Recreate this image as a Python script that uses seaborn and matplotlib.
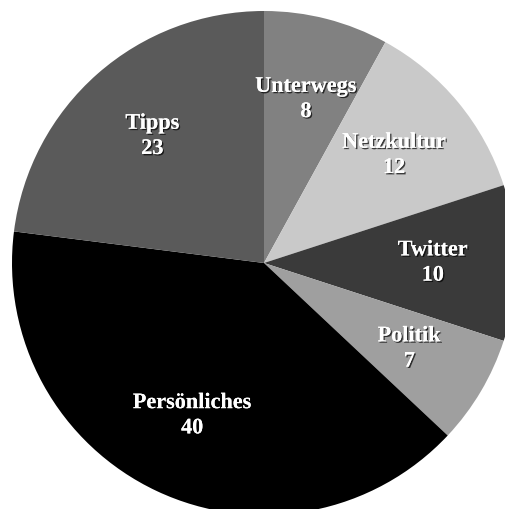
import matplotlib
matplotlib.use("Agg")
import matplotlib.pyplot as plt
import matplotlib.patheffects as pe
import seaborn as sns

categories = ["Unterwegs", "Netzkultur", "Twitter", "Politik", "Persönliches", "Tipps"]
values = [8, 12, 10, 7, 40, 23]
colors = ["#818181", "#c9c9c9", "#3a3a3a", "#9f9f9f", "#000000", "#5a5a5a"]

sns.set_style("white")
plt.rcParams["font.family"] = ["Liberation Serif", "DejaVu Serif"]

fig = plt.figure(figsize=(5.05, 5.10), dpi=100)
ax = fig.add_axes([0, 0, 1, 1])
labels = [f"{c}\n{v}" for c, v in zip(categories, values)]
wedges, texts = ax.pie(values, labels=labels, colors=colors, startangle=90,
                       counterclock=False, labeldistance=0.67, radius=1.0,
                       wedgeprops=dict(linewidth=0),
                       textprops=dict(color="white", fontsize=16, fontweight="bold"))
for t in texts:
    t.set_ha("center")
    t.set_va("center")
    t.set_multialignment("center")
    t.set_linespacing(1.35)
    t.set_path_effects([pe.withSimplePatchShadow(offset=(1, -1), shadow_rgbFace="black", alpha=0.7),
                        pe.Normal()])

ax.set_aspect("auto")
ax.set_xlim(-264 / 252, (505 - 264) / 252)
ax.set_ylim(-(510 - 264) / 252, 264 / 252)
ax.axis("off")
fig.savefig("out.png", dpi=100, facecolor="white")
